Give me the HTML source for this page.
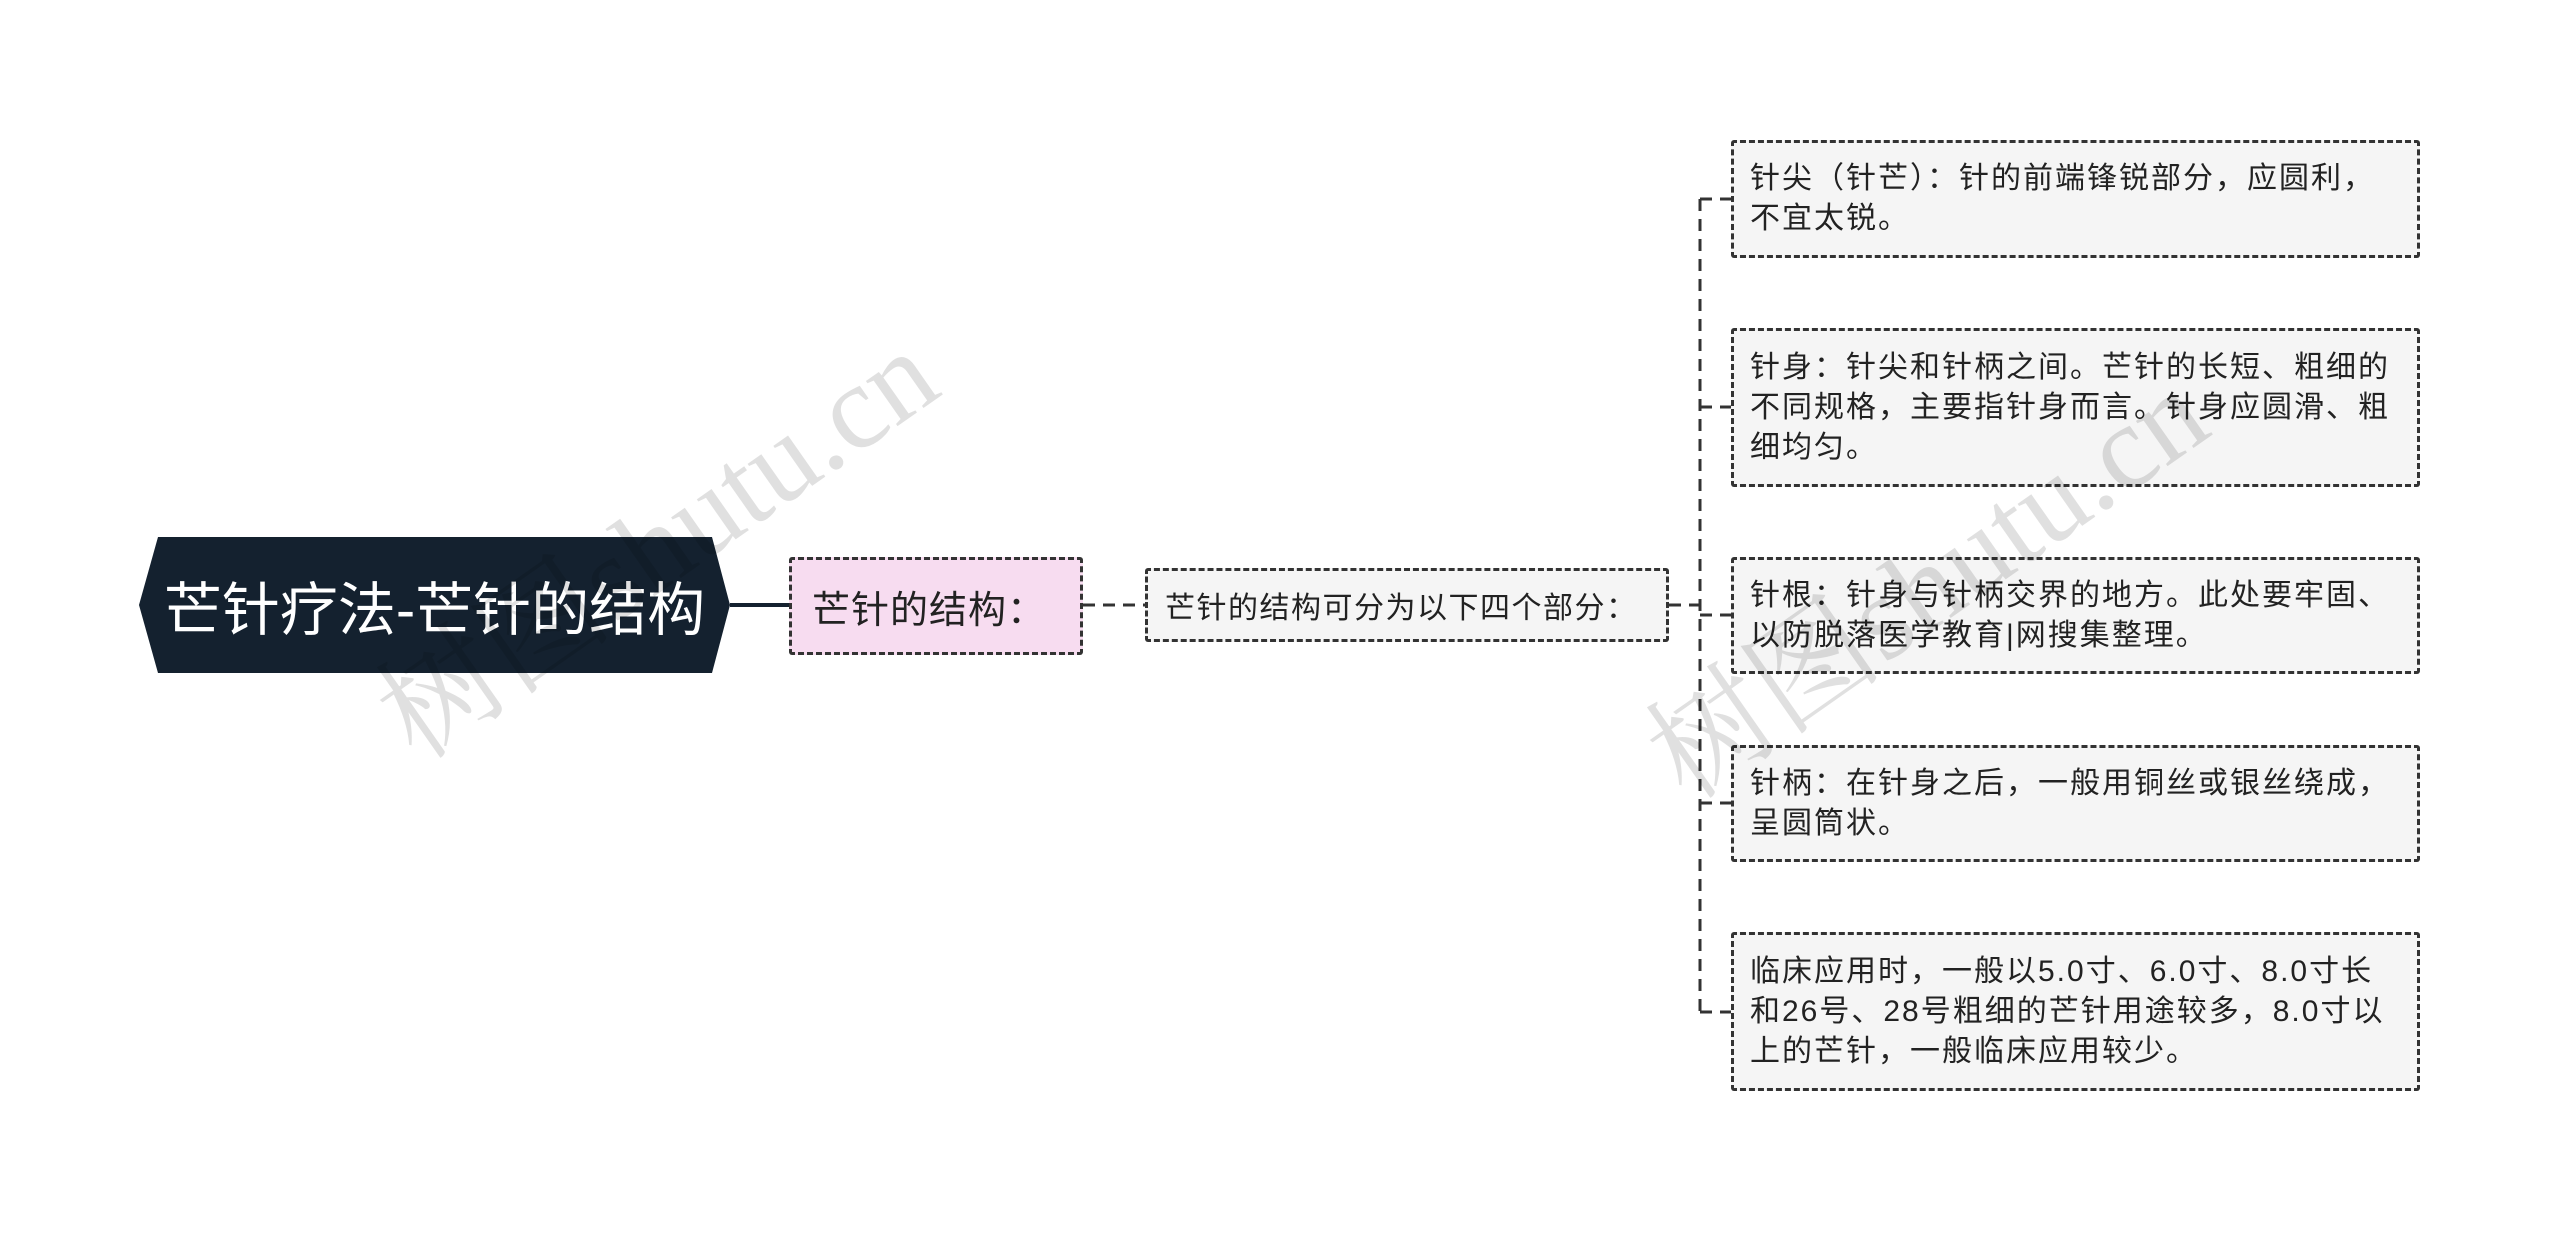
<!DOCTYPE html>
<html><head><meta charset="utf-8"><style>
body{margin:0;width:2560px;height:1233px;background:#fff;position:relative;overflow:hidden;font-family:"Liberation Sans","Noto Sans CJK SC",sans-serif;}
.n{position:absolute;box-sizing:border-box;}
.leaf{left:1731px;width:689px;background:#f5f5f5;border:3px dashed #333;border-radius:3px;font-size:30px;letter-spacing:2px;line-height:40px;color:#222;padding:0 0 0 16px;display:flex;align-items:center;white-space:nowrap;}
.wm{position:absolute;color:rgba(0,0,0,0.12);font-size:120px;transform:rotate(-35deg);font-family:"Liberation Serif","Noto Serif CJK SC",serif;white-space:nowrap;}
</style></head><body>
<svg class="n" style="left:0;top:0" width="2560" height="1233">
<polygon points="158,537 712,537 730,605 712,673 158,673 139,605" fill="#14212f"/>
<line x1="730" y1="605" x2="789" y2="605" stroke="#14212f" stroke-width="4"/>
<g stroke="#333" stroke-width="3" stroke-dasharray="12,8">
<line x1="1083" y1="605" x2="1145" y2="605"/>
<line x1="1669" y1="605" x2="1700" y2="605"/>
<line x1="1700" y1="199" x2="1700" y2="1012"/>
<line x1="1700" y1="199" x2="1731" y2="199"/>
<line x1="1700" y1="407" x2="1731" y2="407"/>
<line x1="1700" y1="615" x2="1731" y2="615"/>
<line x1="1700" y1="803" x2="1731" y2="803"/>
<line x1="1700" y1="1012" x2="1731" y2="1012"/>
</g>
</svg>
<div class="n" style="left:139px;top:537px;width:591px;height:136px;color:#fff;font-size:58px;display:flex;align-items:center;justify-content:center;">芒针疗法-芒针的结构</div>
<div class="n" style="left:789px;top:557px;width:294px;height:98px;background:#f7dcf0;border:3px dashed #333;border-radius:3px;font-size:38px;letter-spacing:1px;color:#222;display:flex;align-items:center;padding-left:20px;white-space:nowrap;">芒针的结构：</div>
<div class="n" style="left:1145px;top:568px;width:524px;height:74px;background:#f5f5f5;border:3px dashed #333;border-radius:3px;font-size:30px;letter-spacing:1.5px;color:#222;display:flex;align-items:center;padding-left:17px;white-space:nowrap;">芒针的结构可分为以下四个部分：</div>
<div class="n leaf" style="top:140px;height:118px;">针尖（针芒）：针的前端锋锐部分，应圆利，<br>不宜太锐。</div>
<div class="n leaf" style="top:328px;height:159px;">针身：针尖和针柄之间。芒针的长短、粗细的<br>不同规格，主要指针身而言。针身应圆滑、粗<br>细均匀。</div>
<div class="n leaf" style="top:557px;height:117px;">针根：针身与针柄交界的地方。此处要牢固、<br>以防脱落医学教育|网搜集整理。</div>
<div class="n leaf" style="top:745px;height:117px;">针柄：在针身之后，一般用铜丝或银丝绕成，<br>呈圆筒状。</div>
<div class="n leaf" style="top:932px;height:159px;">临床应用时，一般以5.0寸、6.0寸、8.0寸长<br>和26号、28号粗细的芒针用途较多，8.0寸以<br>上的芒针，一般临床应用较少。</div>
<div class="wm" style="left:330px;top:450px;">树图shutu.cn</div>
<div class="wm" style="left:1600px;top:490px;">树图shutu.cn</div>
</body></html>
